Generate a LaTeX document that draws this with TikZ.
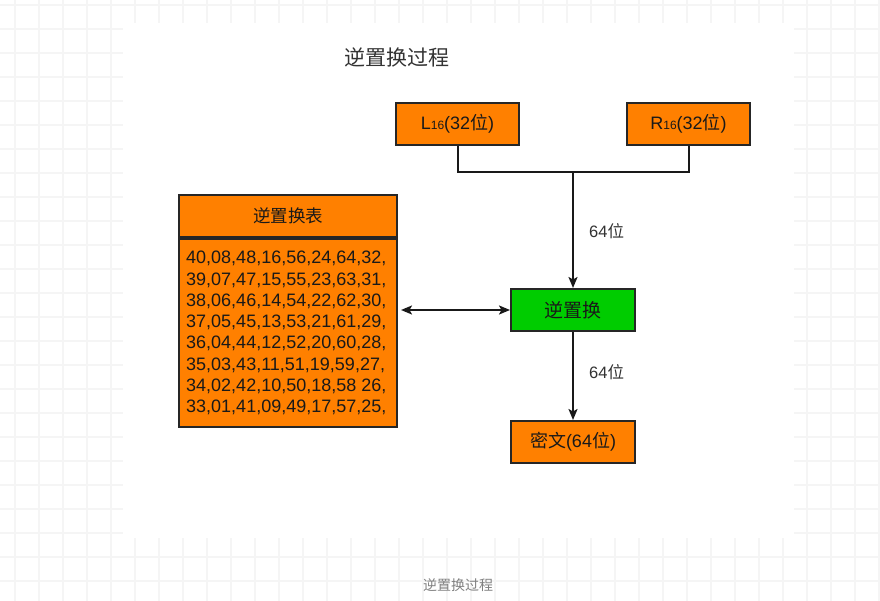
\documentclass[tikz,border=0pt]{standalone}
\usepackage{fontspec}
\setmainfont{Liberation Sans}
\newfontfamily\cjk{Noto Sans CJK SC}
\usetikzlibrary{arrows.meta}
\definecolor{boxorange}{HTML}{FF8000}
\definecolor{boxgreen}{HTML}{00CC00}
\definecolor{gridc}{HTML}{F5F5F5}
\definecolor{labelc}{HTML}{333333}
\newcommand{\fs}[1]{\fontsize{#1pt}{#1pt}\selectfont}
\tikzset{
  boxnode/.style={draw=black!85, line width=2pt, fill=boxorange, inner sep=0pt,
    minimum width=123pt, minimum height=42pt, text=black!90},
  arr/.style={line width=2pt, draw=black!90, -{Stealth[length=11pt,width=9pt,inset=2.5pt]}},
  conn/.style={line width=2pt, draw=black!90},
  lbl/.style={text=labelc, inner sep=0pt, anchor=west},
}
\begin{document}
\begin{tikzpicture}[x=1pt,y=-1pt]
\useasboundingbox (0,0) rectangle (880,601);
\fill[white] (0,0) rectangle (880,601);
% grid
\foreach \i in {0,...,36} \draw[gridc, line width=1.5pt] (15+24*\i,0) -- (15+24*\i,601);
\foreach \j in {0,...,24} \draw[gridc, line width=1.5pt] (0,5+24*\j) -- (880,5+24*\j);
\fill[white] (123,23) rectangle (794,538);
% title
\node[text=labelc, inner sep=0pt] (title) at (397,57) {\fs{21}\cjk 逆置换过程};
% top boxes
\node[boxnode] (L) at (457.5,124) {\fs{18}L{\fs{12}16}({32}{\cjk 位})};
\node[boxnode] (R) at (688.5,124) {\fs{18}R{\fs{12}16}({32}{\cjk 位})};
% green box
\node[boxnode, fill=boxgreen, minimum width=124pt] (G) at (573,310) {\fs{19}\cjk 逆置换};
% cipher
\node[boxnode, minimum width=124pt] (C) at (573,442) {\fs{18}{\cjk 密文}(64{\cjk 位})};
% table
\node[boxnode, minimum width=218pt, minimum height=42pt] (TH) at (288,216) {\fs{17.5}\cjk 逆置换表};
\node[boxnode, minimum width=218pt, minimum height=188pt, anchor=north] (TB) at (TH.south) {};
\node[inner sep=0pt, anchor=north west, align=left, text=black!90, font={\fontsize{18pt}{21.3pt}\selectfont}] (TT) at (186,251)
{40,08,48,16,56,24,64,32,\\39,07,47,15,55,23,63,31,\\38,06,46,14,54,22,62,30,\\37,05,45,13,53,21,61,29,\\36,04,44,12,52,20,60,28,\\35,03,43,11,51,19,59,27,\\34,02,42,10,50,18,58 26,\\33,01,41,09,49,17,57,25,};
% connectors
\coordinate (J) at (573,172);
\draw[conn] (L.south) |- (J);
\draw[conn] (R.south) |- (J);
\draw[arr] (J) -- (G.north);
\draw[arr] (G.south) -- (C.north);
\draw[line width=2pt, draw=black!90, {Stealth[length=11pt,width=9pt,inset=2.5pt]}-{Stealth[length=11pt,width=9pt,inset=2.5pt]}, shorten <=3pt] (TB.east |- G.west) -- (G.west);
% labels
\node[lbl] (l1) at (589,231) {\fs{16.5}64{\cjk 位}};
\node[lbl] (l2) at (589,372) {\fs{16.5}64{\cjk 位}};
% caption
\node[text=black!50, inner sep=0pt] (cap) at (458,585) {\fs{14}\cjk 逆置换过程};
\end{tikzpicture}
\end{document}
